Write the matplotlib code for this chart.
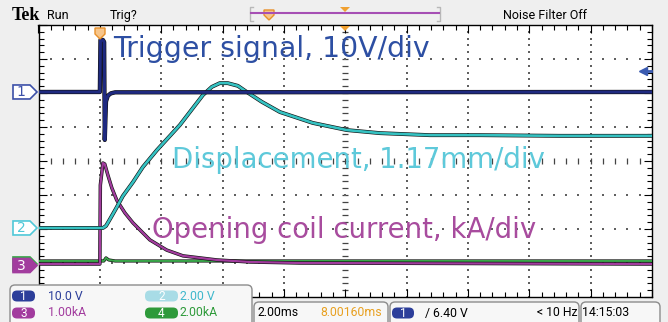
import numpy as np
import matplotlib.pyplot as plt
from matplotlib.patches import Polygon, FancyBboxPatch
from matplotlib.ticker import MultipleLocator

# time in ms (2.00 ms/div, trigger at t=0), amplitude in screen divisions
ch1_t = [-2.0, 0.0, 0.02, 0.10, 0.14, 0.16, 0.20, 0.26, 0.36, 0.50, 18.0]
ch1_v = [2.03, 2.03, 3.56, 3.56, 3.50, 0.62, 1.75, 1.92, 1.99, 2.02, 2.03]

ch2_t = [-2.0, 0.10, 0.20, 0.33, 0.52, 0.75, 1.08, 1.40, 1.86, 2.61, 3.36, 3.65,
         3.91, 4.17, 4.50, 4.79, 5.28, 5.87, 6.94, 8.05, 9.13, 10.76, 12.39, 14.99, 18.0]
ch2_v = [-1.97, -1.97, -1.91, -1.71, -1.41, -1.03, -0.62, -0.18, 0.32, 1.06, 1.94, 2.18,
         2.29, 2.29, 2.21, 2.03, 1.74, 1.44, 1.12, 0.91, 0.82, 0.76, 0.76, 0.74, 0.74]

ch3_t = [-2.0, 0.0, 0.016, 0.10, 0.16, 0.26, 0.39, 0.55, 0.82, 1.08, 1.63, 2.18,
         2.71, 3.81, 4.89, 6.52, 18.0]
ch3_v = [-3.03, -3.03, -0.71, -0.06, -0.09, -0.41, -0.79, -1.15, -1.53, -1.82, -2.32, -2.62,
         -2.79, -2.91, -2.97, -3.00, -3.03]

ch4_t = [-2.0, 0.13, 0.20, 0.29, 0.50, 18.0]
ch4_v = [-2.94, -2.94, -2.85, -2.91, -2.94, -2.94]

labels = ['Trigger signal, 10V/div', 'Displacement, 1.17mm/div', 'Opening coil current, kA/div']
scale_row1 = ['10.0 V', '2.00 V']
scale_row2 = ['1.00kA', '2.00kA']

W, H = 668, 322
fig = plt.figure(figsize=(W / 100, H / 100), dpi=100, facecolor='#efefef')

# graticule: 10 x 8 divisions
ax = fig.add_axes([38.5 / W, 25 / H, 613.5 / W, 272 / H])
ax.set_xlim(-2, 18)
ax.set_ylim(-4, 4)
ax.set_facecolor('white')
for s in ax.spines.values():
    s.set_color('black')
    s.set_linewidth(1.0)
ax.xaxis.set_major_locator(MultipleLocator(2))
ax.xaxis.set_minor_locator(MultipleLocator(0.4))
ax.yaxis.set_major_locator(MultipleLocator(1))
ax.yaxis.set_minor_locator(MultipleLocator(0.2))
ax.tick_params(which='both', direction='in', top=True, right=True, bottom=True, left=True,
               labelbottom=False, labelleft=False, color='black', width=0.8)
ax.tick_params(which='major', length=6)
ax.tick_params(which='minor', length=3.5)

yy = np.arange(-4, 4.01, 0.2)
xx = np.arange(-2, 18.01, 0.4)
for xv in np.arange(0, 17, 2):
    if xv == 8:
        ax.plot(np.full_like(yy, xv), yy, ls='none', marker='_', ms=4, mew=0.9, color='#444444', zorder=1)
    else:
        ax.plot(np.full_like(yy, xv), yy, ls='none', marker='s', ms=1.5, mew=0, color='#606060', zorder=1)
for yv in range(-3, 4):
    if yv == 0:
        ax.plot(xx, np.zeros_like(xx), ls='none', marker='|', ms=4, mew=0.9, color='#444444', zorder=1)
    else:
        ax.plot(xx, np.full_like(xx, yv), ls='none', marker='s', ms=1.5, mew=0, color='#606060', zorder=1)


def trace(t, v, color, lw, z):
    ax.plot(t, v, color='#111111', lw=lw + 0.9, solid_joinstyle='round', zorder=z)
    ax.plot(t, v, color=color, lw=lw, solid_joinstyle='round', zorder=z + 0.1)


trace(ch4_t, ch4_v, '#3aa64a', 1.4, 3)
trace(ch3_t, ch3_v, '#a23c9e', 1.6, 3.2)
trace(ch2_t, ch2_v, '#35c2c2', 1.9, 3.4)
trace(ch1_t, ch1_v, '#1f2a80', 2.2, 3.6)

ax.text(0.42, 3.06, labels[0], fontsize=20.4, color='#2d4fa3', va='baseline', zorder=6)
ax.text(2.35, -0.21, labels[1], fontsize=19.8, color='#5ec9da', va='baseline', zorder=6)
ax.text(1.70, -2.26, labels[2], fontsize=19.9, color='#a84c9e', va='baseline', zorder=6)

# scope user interface, in pixel coordinates
ui = fig.add_axes([0, 0, 1, 1], zorder=10)
ui.set_xlim(0, W)
ui.set_ylim(H, 0)
ui.axis('off')
ui.patch.set_alpha(0)

ui_font = 'Roboto'
ui.text(12, 15, 'Tek', family='Liberation Serif', weight='bold', fontsize=13, va='center')
ui.text(47, 15, 'Run', family=ui_font, fontsize=9, va='center')
ui.text(110, 15, 'Trig?', family=ui_font, fontsize=9, va='center')
ui.text(503, 15, 'Noise Filter Off', family=ui_font, fontsize=9, va='center')

ui.plot([253, 250, 250, 253], [7, 7, 21, 21], color='#b8b8b8', lw=1)
ui.plot([437, 440, 440, 437], [7, 7, 21, 21], color='#b8b8b8', lw=1)
ui.plot([251, 439], [13, 13], color='#a64fb4', lw=1.5)
ui.add_patch(Polygon([(264, 10), (274, 10), (274, 15), (269, 20), (264, 15)],
                     fc='#f7c58a', ec='#e8902a', lw=1))
ui.add_patch(Polygon([(340, 7), (350, 7), (345, 12)], fc='#f0a030', ec='none'))
ui.add_patch(Polygon([(340, 26), (350, 26), (345, 31)], fc='#f0a030', ec='none'))
ui.add_patch(Polygon([(95, 28), (105, 28), (105, 34), (100, 39), (95, 34)],
                     fc='#f7c58a', ec='#e8902a', lw=1))

# trigger level arrow on the right
ui.plot([643, 651], [71, 71], color='#3a5ab0', lw=2)
ui.plot([643], [71], marker='<', ms=6, color='#3a5ab0')


def div_px(d):
    return 161 - d * 34


def ch_marker(yc, edge, face, label, tcolor):
    pts = [(13, yc - 7), (30, yc - 7), (37, yc), (30, yc + 7), (13, yc + 7)]
    ui.add_patch(Polygon(pts, closed=True, fc=face, ec=edge, lw=1.2))
    if label:
        ui.text(21, yc + 0.5, label, color=tcolor, fontsize=10, ha='center', va='center')


ch_marker(div_px(ch1_v[0]), '#3c50a8', 'white', '1', '#3c50a8')
ch_marker(div_px(ch2_v[0]), '#50c8d8', 'white', '2', '#50c8d8')
ch_marker(div_px(ch4_v[0]) + 3, '#3aa64a', '#3aa64a', '', 'white')
ch_marker(div_px(ch3_v[0]) + 1.5, '#a23c9e', '#a23c9e', '3', 'white')


def panel(x0, y0, x1, y1):
    ui.add_patch(FancyBboxPatch((x0, y0), x1 - x0, y1 - y0, boxstyle='round,pad=0,rounding_size=5',
                                fc='#f7f7f7', ec='#8c8c8c', lw=1))


def badge(x0, x1, yc, color, label):
    ui.add_patch(FancyBboxPatch((x0, yc - 5.5), x1 - x0, 11, boxstyle='round,pad=0,rounding_size=5',
                                fc=color, ec='none'))
    ui.text((x0 + x1) / 2, yc + 0.5, label, color='white', family=ui_font, fontsize=8.5,
            ha='center', va='center')


panel(10, 285, 252, 332)
panel(254, 302, 388, 332)
panel(390, 302, 579, 332)
panel(581, 302, 660, 332)

badge(12, 35, 296, '#2c3e9a', '1')
ui.text(48, 296, scale_row1[0], color='#2c3e9a', family=ui_font, fontsize=8.8, va='center')
badge(145, 178, 296, '#a8dce6', '2')
ui.text(180, 296, scale_row1[1], color='#40b8cc', family=ui_font, fontsize=8.8, va='center')
badge(12, 35, 313, '#a23c9e', '3')
ui.text(48, 313, scale_row2[0], color='#a23c9e', family=ui_font, fontsize=8.8, va='center')
badge(145, 178, 313, '#2e9a3a', '4')
ui.text(180, 313, scale_row2[1], color='#2e9a3a', family=ui_font, fontsize=8.8, va='center')

ui.text(257, 313, '2.00ms', family=ui_font, fontsize=8.8, va='center')
ui.text(320, 313, '8.00160ms', color='#e8a020', family=ui_font, fontsize=8.8, va='center')
badge(392, 414, 313, '#2c3e9a', '1')
ui.text(425, 313, '/ 6.40 V', family=ui_font, fontsize=8.8, va='center')
ui.text(537, 313, '< 10 Hz', family=ui_font, fontsize=8.8, va='center')
ui.text(582, 313, '14:15:03', family=ui_font, fontsize=8.8, va='center')

fig.savefig('out.png', dpi=100, facecolor=fig.get_facecolor())
